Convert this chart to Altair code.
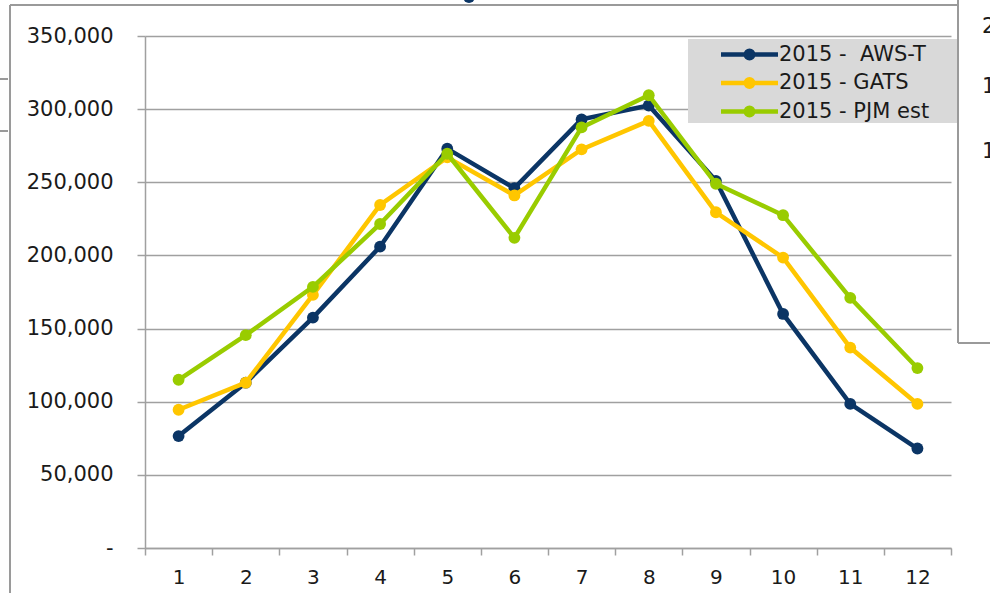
import altair as alt
import pandas as pd

# ---- data ----
months = list(range(1, 13))
series_names = ["2015 -  AWS-T", "2015 - GATS", "2015 - PJM est"]
aws_t = [76500, 113000, 157500, 206000, 273000, 246000, 293000, 302500, 251000, 160000, 98500, 68000]
gats = [94500, 113000, 173000, 234500, 267000, 241000, 272500, 292000, 229500, 198500, 137000, 98500]
pjm = [115000, 145500, 178500, 221500, 269500, 212000, 287500, 309500, 249000, 227500, 171000, 123000]
series_values = [aws_t, gats, pjm]
colors = ["#0b3565", "#ffc600", "#99cc00"]
y_ticks = list(range(0, 350001, 50000))
edge_digits = ["2", "1", "1"]  # cut-off labels of the neighbouring chart

rows = []
for name, vals in zip(series_names, series_values):
    for m, v in zip(months, vals):
        rows.append({"month": m, "value": v, "series": name})
df = pd.DataFrame(rows)

W, H = 806, 512
PAD_L, PAD_T = 145, 36
GRAY = "#a0a0a0"
TXT = "#1a1a1a"
FONT = "DejaVu Sans"

# legend symbol: line with a dot (drawn by strokes)
sym = ("M-5.7,0L5.7,0"
       "M0.75,0A0.75,0.75,0,1,1,-0.75,0A0.75,0.75,0,1,1,0.75,0"
       "M0.3,0A0.3,0.3,0,1,1,-0.3,0A0.3,0.3,0,1,1,0.3,0")

x_enc = alt.X(
    "month:O",
    bandPosition=0.5,
    scale=alt.Scale(type="band", paddingInner=0, paddingOuter=0),
    axis=alt.Axis(
        title=None, labelAngle=0, tickBand="extent", grid=False,
        domainColor=GRAY, domainWidth=1.5, tickColor=GRAY, tickWidth=1.5, tickSize=7,
        labelFont=FONT, labelFontSize=20, labelColor=TXT, labelPadding=12,
    ),
)
y_enc = alt.Y(
    "value:Q",
    scale=alt.Scale(domain=[0, 350000], nice=False),
    axis=alt.Axis(
        title=None, values=y_ticks,
        labelExpr="datum.value == 0 ? '-' : format(datum.value, ',')",
        grid=True, gridColor=GRAY, gridWidth=1.3,
        domainColor=GRAY, domainWidth=1.5, tickColor=GRAY, tickWidth=1.5, tickSize=8,
        labelFont=FONT, labelFontSize=21, labelColor=TXT, labelPadding=24,
    ),
)
color_enc = alt.Color(
    "series:N",
    scale=alt.Scale(domain=series_names, range=colors),
    legend=alt.Legend(
        orient="none", legendX=543, legendY=6, title=None,
        padding=2,
        symbolType=sym, symbolSize=100, symbolStrokeWidth=4.5,
        symbolOffset=49, labelOffset=19, rowPadding=1.5,
        labelFont=FONT, labelFontSize=21, labelColor=TXT, labelLimit=400,
        labelExpr="replace(datum.label, '  ', ' \u00a0')",
    ),
)

base = alt.Chart(df)
layers = []
for name in series_names:
    sub = base.transform_filter(alt.datum.series == name)
    layers.append(sub.mark_line(strokeWidth=4.5).encode(x=x_enc, y=y_enc, color=color_enc))
    layers.append(sub.mark_circle(size=140, opacity=1).encode(x=x_enc, y=y_enc, color=color_enc))

# decorations (pixel positions relative to plot origin)
one = alt.Chart(pd.DataFrame({"a": [0]}))
frame_color = "#9a9a9a"
def frule(x1, y1, x2, y2):
    return one.mark_rule(color=frame_color, strokeWidth=2).encode(
        x=alt.value(x1 - PAD_L), y=alt.value(y1 - PAD_T),
        x2=alt.value(x2 - PAD_L), y2=alt.value(y2 - PAD_T))

frames = [
    frule(10, 5, 10, 593),
    frule(10, 5, 958, 5),
    frule(958, 0, 958, 343),
    frule(958, 343, 990, 343),
    frule(0, 79, 8, 79),
    frule(0, 131, 8, 131),
]
legend_box = one.mark_rect(color="#d9d9d9").encode(
    x=alt.value(688 - PAD_L), x2=alt.value(957 - PAD_L),
    y=alt.value(39 - PAD_T), y2=alt.value(123 - PAD_T))
top_dot = one.mark_circle(size=140, opacity=1, color=colors[0]).encode(
    x=alt.value(469 - PAD_L), y=alt.value(-3 - PAD_T))
edge_texts = [
    one.mark_text(text=d, font=FONT, fontSize=21, color=TXT, align="left", baseline="middle").encode(
        x=alt.value(982 - PAD_L), y=alt.value(yy - PAD_T))
    for d, yy in zip(edge_digits, [27, 87, 152])
]

chart = alt.layer(*frames, legend_box, top_dot, *edge_texts, *layers).properties(
    width=W, height=H,
    autosize=alt.AutoSizeParams(type="none"),
    padding={"left": PAD_L, "top": PAD_T, "right": 990 - PAD_L - W, "bottom": 593 - PAD_T - H},
    background="white",
).configure_view(stroke=None)

chart.save("out.html", embed_options={"renderer": "svg", "actions": False})
